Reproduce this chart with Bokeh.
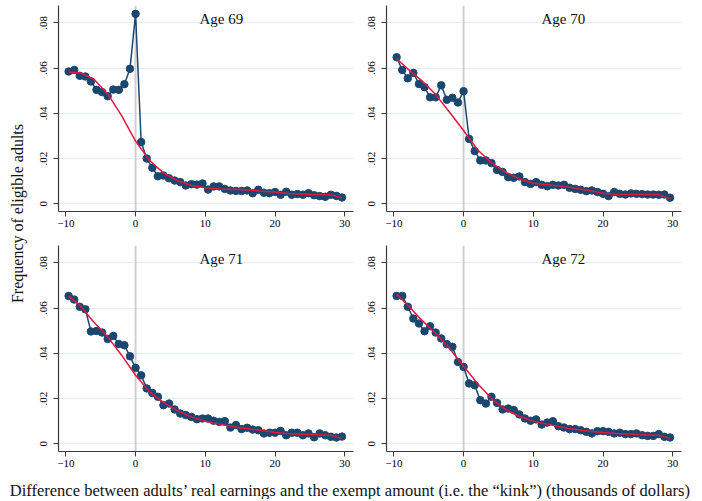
import math
from bokeh.plotting import figure
from bokeh.layouts import row, column
from bokeh.models import Range1d, Span, Label, FixedTicker, CustomJSTickFormatter
from bokeh.embed import file_html
from bokeh.resources import INLINE

# ---------------- data ----------------
bin_x = [-9.6, -8.8, -8.0, -7.2, -6.4, -5.6, -4.8, -4.0, -3.2, -2.4,
         -1.6, -0.8, 0.0, 0.8, 1.6, 2.4, 3.2, 4.0, 4.8, 5.6,
         6.4, 7.2, 8.0, 8.8, 9.6, 10.4, 11.2, 12.0, 12.8, 13.6,
         14.4, 15.2, 16.0, 16.8, 17.6, 18.4, 19.2, 20.0, 20.8, 21.6,
         22.4, 23.2, 24.0, 24.8, 25.6, 26.4, 27.2, 28.0, 28.8, 29.6]

freq_69 = [0.0585, 0.0592, 0.0566, 0.0563, 0.0541, 0.0504, 0.0494, 0.0476, 0.0505, 0.0504,
           0.0529, 0.0597, 0.0840, 0.0273, 0.0200, 0.0159, 0.0122, 0.0125, 0.0113, 0.0103,
           0.0096, 0.0081, 0.0087, 0.0085, 0.0090, 0.0063, 0.0077, 0.0077, 0.0066, 0.0059,
           0.0057, 0.0057, 0.0059, 0.0047, 0.0062, 0.0049, 0.0047, 0.0052, 0.0040, 0.0053,
           0.0040, 0.0043, 0.0040, 0.0047, 0.0038, 0.0034, 0.0031, 0.0040, 0.0035, 0.0028]

freq_70 = [0.0648, 0.0592, 0.0555, 0.0579, 0.0530, 0.0516, 0.0471, 0.0471, 0.0524, 0.0460,
           0.0469, 0.0448, 0.0498, 0.0287, 0.0233, 0.0192, 0.0192, 0.0180, 0.0150, 0.0141,
           0.0118, 0.0115, 0.0121, 0.0096, 0.0088, 0.0096, 0.0084, 0.0078, 0.0084, 0.0081,
           0.0084, 0.0071, 0.0066, 0.0062, 0.0056, 0.0059, 0.0052, 0.0044, 0.0034, 0.0052,
           0.0044, 0.0041, 0.0046, 0.0044, 0.0043, 0.0041, 0.0041, 0.0040, 0.0041, 0.0027]

freq_71 = [0.0654, 0.0638, 0.0606, 0.0595, 0.0497, 0.0499, 0.0492, 0.0464, 0.0477, 0.0441,
           0.0436, 0.0387, 0.0336, 0.0303, 0.0245, 0.0225, 0.0208, 0.0171, 0.0178, 0.0152,
           0.0134, 0.0127, 0.0119, 0.0109, 0.0112, 0.0112, 0.0102, 0.0097, 0.0100, 0.0072,
           0.0083, 0.0065, 0.0071, 0.0063, 0.0060, 0.0046, 0.0049, 0.0049, 0.0057, 0.0038,
           0.0049, 0.0049, 0.0038, 0.0046, 0.0029, 0.0046, 0.0038, 0.0031, 0.0028, 0.0032]

freq_72 = [0.0654, 0.0654, 0.0606, 0.0554, 0.0532, 0.0498, 0.0520, 0.0492, 0.0466, 0.0441,
           0.0429, 0.0362, 0.0340, 0.0267, 0.0259, 0.0193, 0.0178, 0.0208, 0.0181, 0.0152,
           0.0156, 0.0149, 0.0130, 0.0112, 0.0102, 0.0108, 0.0085, 0.0094, 0.0100, 0.0078,
           0.0072, 0.0065, 0.0065, 0.0060, 0.0053, 0.0046, 0.0056, 0.0056, 0.0053, 0.0046,
           0.0049, 0.0043, 0.0043, 0.0046, 0.0038, 0.0035, 0.0035, 0.0043, 0.0031, 0.0028]

fit_x = [-9.6, -8, -6, -4, -2, 0, 2, 4, 6, 8, 10, 12, 15, 18, 20, 22, 25, 28, 29.6]
fit_69 = [0.0582, 0.0580, 0.0552, 0.0486, 0.0390, 0.0277, 0.0192, 0.0136, 0.0103, 0.0081,
          0.0071, 0.0066, 0.0063, 0.0056, 0.0052, 0.0046, 0.0041, 0.0040, 0.0027]
fit_70 = [0.0641, 0.0597, 0.0545, 0.0483, 0.0405, 0.0324, 0.0239, 0.0181, 0.0140, 0.0110,
          0.0091, 0.0084, 0.0074, 0.0059, 0.0047, 0.0041, 0.0041, 0.0041, 0.0022]
fit_71 = [0.0653, 0.0613, 0.0539, 0.0473, 0.0392, 0.0303, 0.0230, 0.0183, 0.0146, 0.0119,
          0.0100, 0.0087, 0.0071, 0.0060, 0.0050, 0.0044, 0.0041, 0.0038, 0.0024]
fit_72 = [0.0662, 0.0613, 0.0547, 0.0488, 0.0421, 0.0343, 0.0267, 0.0200, 0.0152, 0.0122,
          0.0100, 0.0087, 0.0068, 0.0056, 0.0050, 0.0046, 0.0041, 0.0038, 0.0024]

panel_titles = ["Age 69", "Age 70", "Age 71", "Age 72"]
x_ticks = [-10, 0, 10, 20, 30]
y_ticks = [0, 0.02, 0.04, 0.06, 0.08]

y_title = "Frequency of eligible adults"
x_title = "Difference between adults\u2019 real earnings and the exempt amount (i.e. the \u201ckink\u201d) (thousands of dollars)"

# ---------------- style ----------------
SERIF = "Liberation Serif"
NAVY = "#1a476f"
RED = "#e5173f"
FW, FH = 295, 206
BL, BT, BB = 30, 5, 29

def make_panel(freq, fit, title, title_x, right_border):
    p = figure(frame_width=FW, frame_height=FH,
               x_range=Range1d(-11.05, 31.25), y_range=Range1d(-0.0034, 0.0877),
               output_backend="svg", toolbar_location=None,
               min_border_left=BL, min_border_right=right_border,
               min_border_top=BT, min_border_bottom=BB)
    p.outline_line_color = None
    p.background_fill_color = "white"
    p.border_fill_color = "white"
    p.xgrid.visible = False
    p.ygrid.grid_line_color = "#e2edf1"
    p.ygrid.grid_line_width = 1
    p.xaxis.ticker = FixedTicker(ticks=x_ticks)
    p.yaxis.ticker = FixedTicker(ticks=y_ticks)
    p.yaxis.formatter = CustomJSTickFormatter(
        code="return tick == 0 ? '0' : tick.toFixed(2).replace(/^0/, '');")
    p.yaxis.major_label_orientation = "vertical"
    for ax in (p.xaxis, p.yaxis):
        ax.axis_line_color = "#3a3a3a"
        ax.axis_line_width = 1.2
        ax.major_tick_line_color = "#3a3a3a"
        ax.major_tick_out = 5
        ax.major_tick_in = 0
        ax.minor_tick_line_color = None
        ax.major_label_text_font = SERIF
        ax.major_label_text_font_size = "11px"
        ax.major_label_text_color = "#000000"
    p.xaxis.major_label_standoff = 3
    p.yaxis.major_label_standoff = 6
    p.add_layout(Span(location=0, dimension="height", line_color="#cfcfcf",
                      line_width=2, level="underlay"))
    p.line(bin_x, freq, line_color=NAVY, line_width=1.5)
    p.scatter(bin_x, freq, size=7.5, fill_color=NAVY, line_color=NAVY)
    p.line(fit_x, fit, line_color=RED, line_width=1.5)
    p.add_layout(Label(x=title_x, y=0.0818, text=title, text_align="center",
                       text_baseline="middle", text_font=SERIF,
                       text_font_size="15px", text_color="#111111"))
    return p

p1 = make_panel(freq_69, fit_69, panel_titles[0], 12.3, 3)
p2 = make_panel(freq_70, fit_70, panel_titles[1], 14.3, 17)
p3 = make_panel(freq_71, fit_71, panel_titles[2], 12.3, 3)
p4 = make_panel(freq_72, fit_72, panel_titles[3], 14.3, 17)

GRID_H = 2 * (BT + FH + BB)
LW = 28
ylab = figure(width=LW, height=GRID_H, x_range=Range1d(0, LW), y_range=Range1d(0, GRID_H),
              output_backend="svg", toolbar_location=None, min_border=0)
ylab.axis.visible = False
ylab.grid.visible = False
ylab.outline_line_color = None
ylab.add_layout(Label(x=17, y=GRID_H - 213, text=y_title, angle=math.pi / 2,
                      text_align="center", text_baseline="middle", text_font=SERIF,
                      text_font_size="16px", text_color="#111111"))

TOTAL_W = LW + (BL + FW + 3) + (BL + FW + 17)
XH = 19
xlab = figure(width=TOTAL_W, height=XH, x_range=Range1d(0, TOTAL_W), y_range=Range1d(0, XH),
              output_backend="svg", toolbar_location=None, min_border=0)
xlab.axis.visible = False
xlab.grid.visible = False
xlab.outline_line_color = None
xlab.add_layout(Label(x=350, y=XH - 10, text=x_title, text_align="center",
                      text_baseline="middle", text_font=SERIF,
                      text_font_size="16.5px", text_color="#111111"))

layout = column(row(ylab, column(row(p1, p2), row(p3, p4))), xlab)

with open("out.html", "w") as f:
    f.write(file_html(layout, INLINE))
